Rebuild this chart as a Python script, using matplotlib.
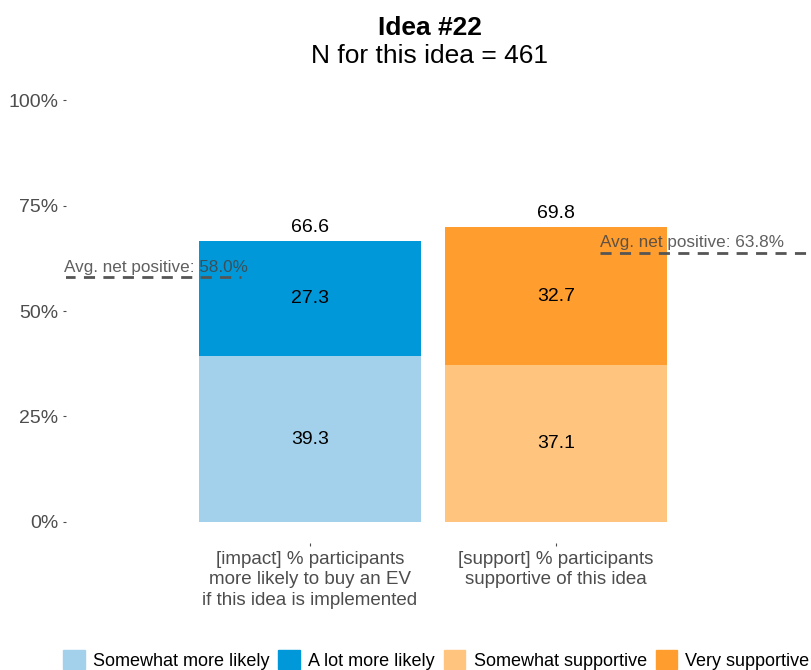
import numpy as np
import matplotlib.pyplot as plt
from matplotlib.patches import Patch

plt.rcParams['font.family'] = ['Liberation Sans', 'DejaVu Sans']

# data
categories = ['[impact] % participants\nmore likely to buy an EV\nif this idea is implemented',
              '[support] % participants\nsupportive of this idea']
lower_vals = [39.3, 37.1]      # somewhat more likely / somewhat supportive
upper_vals = [27.3, 32.7]      # a lot more likely / very supportive
totals = [66.6, 69.8]
avg_net = [58.0, 63.8]
legend_labels = ['Somewhat more likely', 'A lot more likely',
                 'Somewhat supportive', 'Very supportive']
n_idea = 461
idea_no = 22

lower_cols = ['#A3D1EC', '#FFC57F']
upper_cols = ['#0098D8', '#FF9E2F']
grey = '#4D4D4D'

W, H = 812, 670
fig = plt.figure(figsize=(W / 100, H / 100), dpi=100)
ax = fig.add_axes([66 / W, (H - 543) / H, (811 - 66) / W, (543 - 79) / H])

x = np.arange(1, len(categories) + 1)
ax.bar(x, lower_vals, width=0.9, color=lower_cols)
ax.bar(x, upper_vals, width=0.9, bottom=lower_vals, color=upper_cols)

for xi, lo, up, tot in zip(x, lower_vals, upper_vals, totals):
    ax.text(xi, lo / 2, f'{lo:.1f}', ha='center', va='center', fontsize=14, color='black')
    ax.text(xi, lo + up / 2, f'{up:.1f}', ha='center', va='center', fontsize=14, color='black')
    ax.text(xi, tot + 1.2, f'{tot:.1f}', ha='center', va='bottom', fontsize=14, color='black')

# average net positive reference lines
seg = [(0.0, 0.72), (2.18, 3.03)]
for (x0, x1), avg in zip(seg, avg_net):
    ax.plot([x0, x1], [avg, avg], color='#555555', lw=2, ls=(0, (4, 3)))
    ax.text(x0, avg + 0.6, f'Avg. net positive: {avg:.1f}%', ha='left', va='bottom',
            fontsize=12.3, color='#444444', alpha=0.85)

ax.set_xlim(0.008, 3.037)
ax.set_ylim(-5, 105)
ax.set_xticks(x)
ax.set_xticklabels(categories, fontsize=13.5, color=grey, linespacing=1.27)
ax.set_yticks([0, 25, 50, 75, 100])
ax.set_yticklabels(['0%', '25%', '50%', '75%', '100%'], fontsize=14, color=grey)
ax.tick_params(axis='both', length=2.5, width=0.8, color=grey, pad=3)
for s in ax.spines.values():
    s.set_visible(False)

fig.text(430 / W, 1 - 35 / H, f'Idea #{idea_no}', ha='center', va='baseline',
         fontsize=19, fontweight='bold')
fig.text(430 / W, 1 - 63 / H, f'N for this idea = {n_idea}', ha='center', va='baseline',
         fontsize=19)

handles = [Patch(color=c) for c in [lower_cols[0], upper_cols[0], lower_cols[1], upper_cols[1]]]
fig.legend(handles, legend_labels, ncol=4, loc='center left', bbox_to_anchor=(63 / W, 1 - 660 / H),
           frameon=False, fontsize=13, handlelength=1.2, handleheight=1.2,
           handletextpad=0.45, columnspacing=0.5, borderpad=0, borderaxespad=0)

fig.savefig('out.png', dpi=100)
